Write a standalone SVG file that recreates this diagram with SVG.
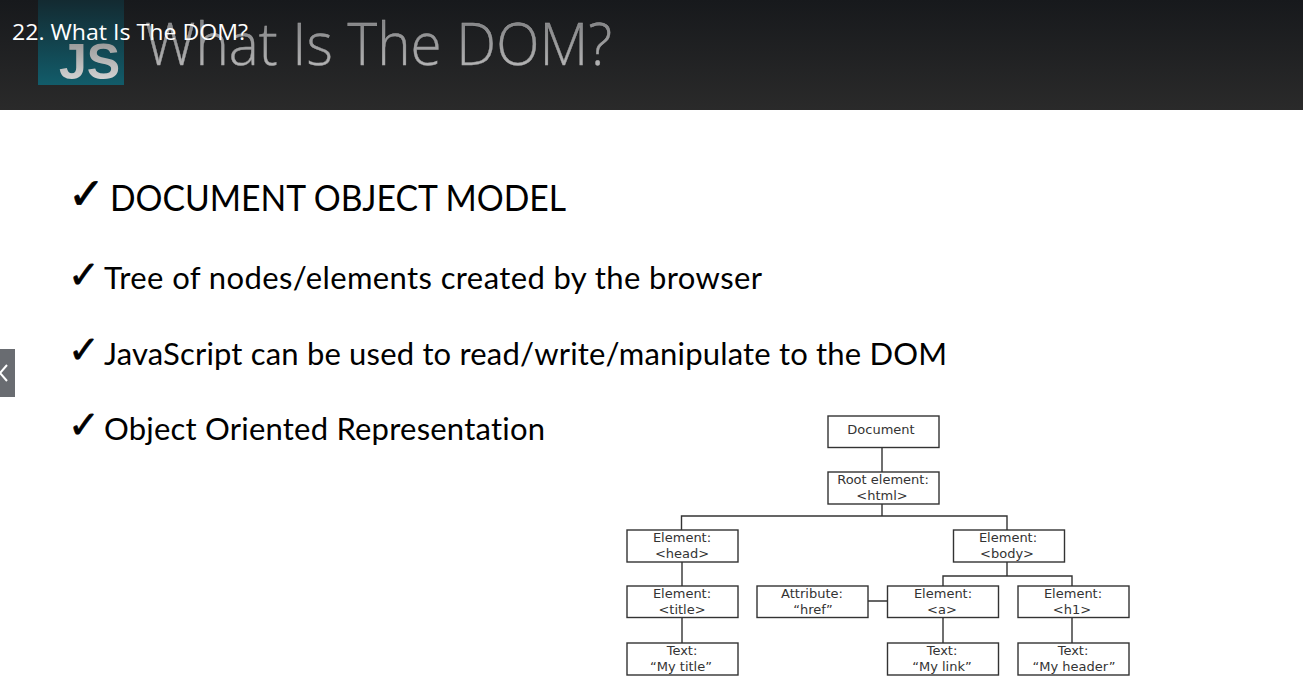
<svg xmlns="http://www.w3.org/2000/svg" width="1303" height="699" viewBox="0 0 1303 699">
<defs>
<linearGradient id="hdr" x1="0" y1="0" x2="0" y2="1"><stop offset="0" stop-color="#17191c"/><stop offset="1" stop-color="#2a2a2a"/></linearGradient>
<linearGradient id="logo" x1="0" y1="0" x2="0" y2="1"><stop offset="0" stop-color="#132a31"/><stop offset="1" stop-color="#125c6a"/></linearGradient>
<linearGradient id="js" x1="0" y1="0" x2="0" y2="1"><stop offset="0" stop-color="#8d8d8d"/><stop offset="1" stop-color="#e2e2e2"/></linearGradient>
<linearGradient id="ttl" x1="0" y1="0" x2="0" y2="1"><stop offset="0" stop-color="#6f7073"/><stop offset="1" stop-color="#c4c4c4"/></linearGradient>
</defs>
<style>
.b{font-family:"Lato","Noto Sans",sans-serif;fill:#000;font-variant-ligatures:none}
.c{font-family:"DejaVu Sans",sans-serif;fill:#000;stroke:#000;stroke-width:.7}
.n rect{fill:#fff;stroke:#333;stroke-width:1.4}
.n text{font-family:"DejaVu Sans",sans-serif;font-size:13px;fill:#333;text-anchor:middle}
#connectors path{fill:none;stroke:#333;stroke-width:1.4}
</style>
<rect width="1303" height="699" fill="#fff"/>
<rect width="1303" height="110" fill="url(#hdr)"/>
<rect x="38" y="0" width="86" height="85" fill="url(#logo)"/>
<text x="59" y="79" font-family="Liberation Sans,sans-serif" font-weight="700" font-size="50" fill="url(#js)">JS</text>
<text x="145" y="65" font-family="Open Sans,sans-serif" font-weight="300" font-size="58" fill="url(#ttl)" stroke="#a0a0a0" stroke-width=".4" textLength="467" lengthAdjust="spacingAndGlyphs">What Is The DOM?</text>
<text x="12" y="40" font-family="Open Sans,sans-serif" font-size="22.500" fill="#fff" textLength="236" lengthAdjust="spacingAndGlyphs">22. What Is The DOM?</text>

<text class="c" x="68" y="209" font-size="44">✓</text>
<text class="b" x="110" y="211" font-size="36" textLength="456" lengthAdjust="spacingAndGlyphs">DOCUMENT OBJECT MODEL</text>
<text class="c" x="68" y="288" font-size="38">✓</text>
<text class="b" x="104" y="289" font-size="31" textLength="658">Tree of nodes/elements created by the browser</text>
<text class="c" x="68" y="363" font-size="38">✓</text>
<text class="b" x="104" y="365" font-size="31" textLength="843">JavaScript can be used to read/write/manipulate to the DOM</text>
<text class="c" x="68" y="438" font-size="38">✓</text>
<text class="b" x="104" y="440" font-size="31" textLength="441">Object Oriented Representation</text>

<rect x="0" y="349" width="15" height="48" fill="#696c71"/>
<path d="M7 365 L0 373 L7 381" fill="none" stroke="#fff" stroke-width="2"/>

<g id="connectors">
<path d="M882 447V472M882 504V516M681.5 530V516H1007V530M682 562V586M682 617V643M1007 562V576M943 586V576H1072V586M943 617V643M1072 617V643M868 601H887"/>
</g>
<g id="document" class="n"><rect x="828" y="416" width="111" height="31.5"/><text x="881" y="434">Document</text></g>
<g id="root" class="n"><rect x="828" y="472" width="111" height="32"/><text x="883" y="484">Root element:</text><text x="882" y="500">&lt;html&gt;</text></g>
<g id="head" class="n"><rect x="627" y="530" width="111" height="32"/><text x="682" y="542">Element:</text><text x="682" y="558">&lt;head&gt;</text></g>
<g id="body" class="n"><rect x="953.500" y="530" width="111" height="32"/><text x="1008" y="542">Element:</text><text x="1007" y="558">&lt;body&gt;</text></g>
<g id="title" class="n"><rect x="627" y="586" width="111" height="31.5"/><text x="682" y="598">Element:</text><text x="682" y="614">&lt;title&gt;</text></g>
<g id="attr" class="n"><rect x="757" y="586" width="111" height="31.5"/><text x="812" y="598">Attribute:</text><text x="813" y="614">“href”</text></g>
<g id="a" class="n"><rect x="887.500" y="586" width="111" height="31.5"/><text x="943" y="598">Element:</text><text x="942" y="614">&lt;a&gt;</text></g>
<g id="h1" class="n"><rect x="1018" y="586" width="111" height="31.5"/><text x="1073" y="598">Element:</text><text x="1072" y="614">&lt;h1&gt;</text></g>
<g id="text-title" class="n"><rect x="627" y="643" width="111" height="32"/><text x="682" y="655">Text:</text><text x="681" y="671">“My title”</text></g>
<g id="text-link" class="n"><rect x="887.500" y="643" width="111" height="32"/><text x="942" y="655">Text:</text><text x="942" y="671">“My link”</text></g>
<g id="text-header" class="n"><rect x="1018" y="643" width="111" height="32"/><text x="1073" y="655">Text:</text><text x="1074" y="671">“My header”</text></g>
</svg>
